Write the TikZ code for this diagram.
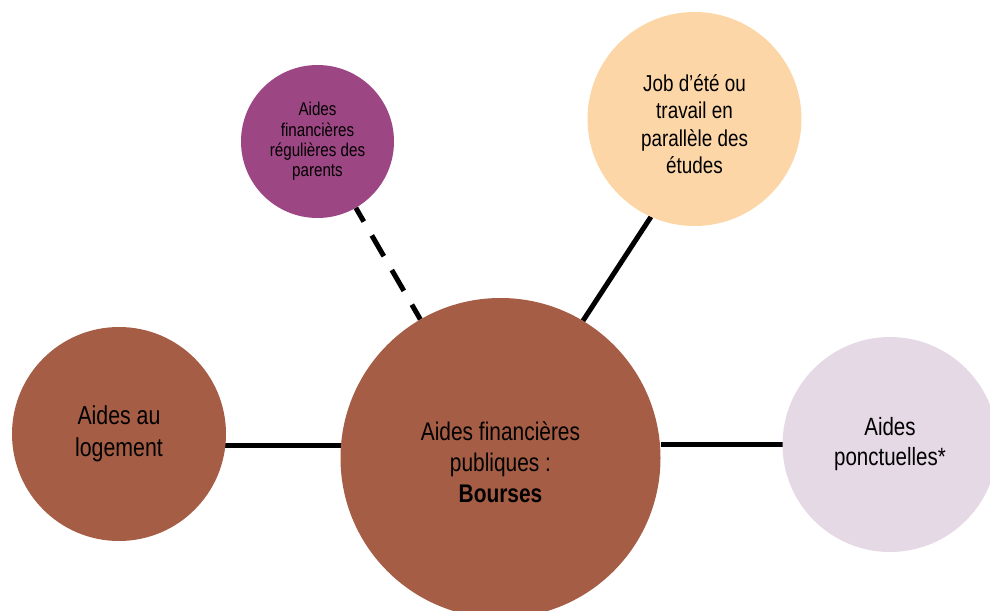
\documentclass[tikz,border=0pt]{standalone}
\usepackage{fontspec}
\setmainfont{Liberation Sans}[FakeStretch=0.82]
\usetikzlibrary{backgrounds}
\definecolor{brownc}{HTML}{A65D45}
\definecolor{purplec}{HTML}{9D4684}
\definecolor{peachc}{HTML}{FCD6A6}
\definecolor{lavc}{HTML}{E6D9E6}
\tikzset{
  bubble/.style={circle, inner sep=0pt, outer sep=0pt, draw=none, align=center, text=black},
  btext/.style={inner sep=0pt, align=center, text=black},
  link/.style={line width=5bp, black},
  dashlink/.style={link, dash pattern=on 24bp off 16bp, dash phase=8bp}
}
\begin{document}
\begin{tikzpicture}[x=1bp, y=-1bp]
\useasboundingbox (0,0) rectangle (990,611);
\node[bubble, fill=brownc, minimum size=320bp,
  label={[btext, name=maintext, yshift=-4.5bp, font=\fontsize{25.5bp}{31bp}\selectfont]center:{Aides financières\\publiques :\\\textbf{Bourses}}}] (main) at (500.5,458) {};
\node[bubble, fill=brownc, minimum size=214bp, font=\fontsize{26bp}{32bp}\selectfont] (logement) at (119,434) {Aides au\\logement};
\node[bubble, fill=lavc, minimum size=215bp, font=\fontsize{25bp}{30bp}\selectfont] (ponct) at (890,444.5) {Aides\\ponctuelles*};
\node[bubble, fill=purplec, minimum size=153bp, font=\fontsize{18.5bp}{20.3bp}\selectfont] (parents) at (317.5,141.5) {Aides\\financières\\régulières des\\parents};
\node[bubble, fill=peachc, minimum size=214bp,
  label={[btext, name=jobtext, yshift=-5bp, font=\fontsize{23bp}{27.5bp}\selectfont]center:{Job d’été ou\\travail en\\parallèle des\\études}}] (job) at (694.5,119) {};
\begin{scope}[on background layer]
\draw[link] (logement.-6.4) -- (logement.-6.4 -| main.west);
\draw[link] (main.east |- ponct.180.8) -- (ponct.180.8);
\draw[link] (job.246.7) -- (main.59.4);
\draw[dashlink] (parents) -- (main);
\end{scope}
\end{tikzpicture}
\end{document}
